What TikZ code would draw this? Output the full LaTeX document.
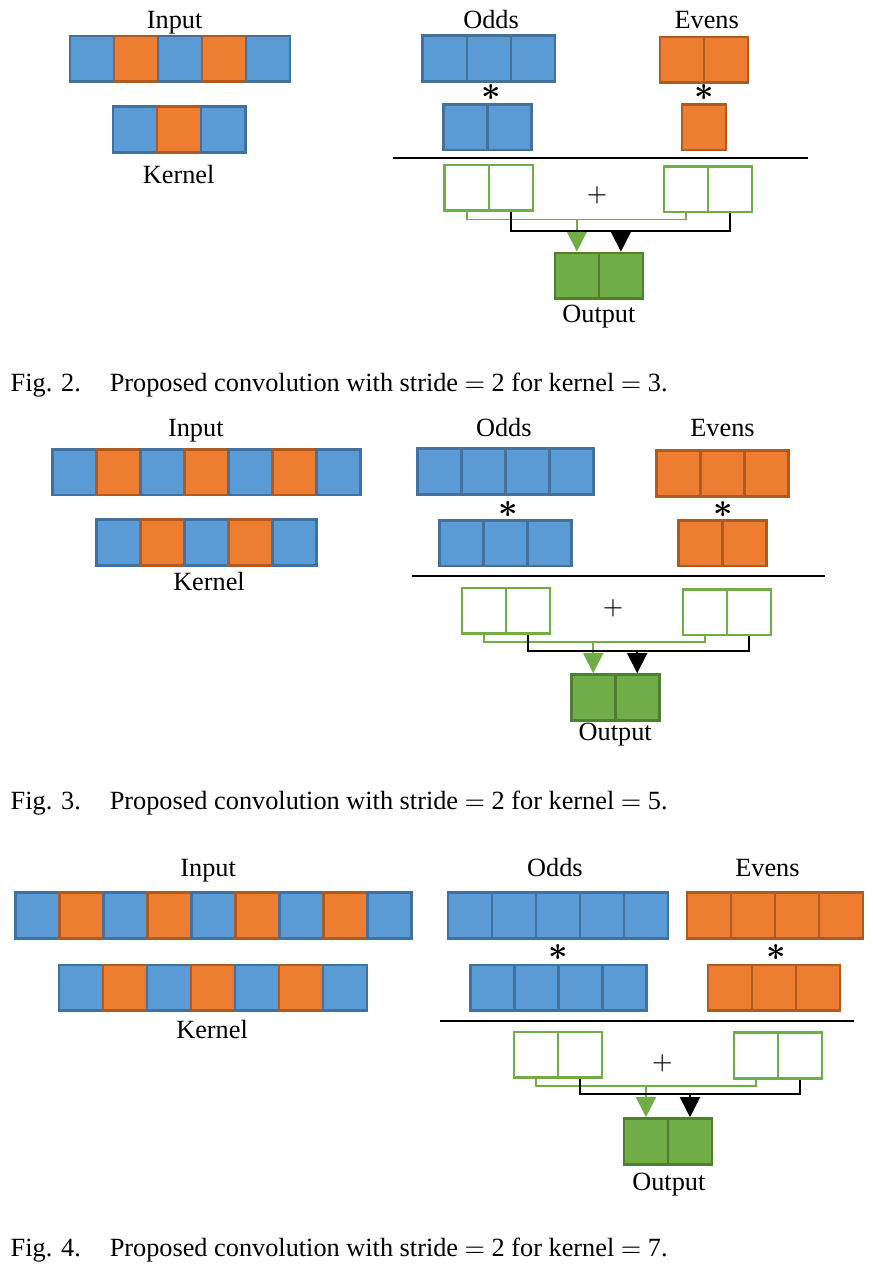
\documentclass[tikz,border=0pt]{standalone}
\usepackage{fontspec}
\setmainfont{Liberation Serif}
\usepackage{amsmath}
\usetikzlibrary{arrows.meta}
\definecolor{cblue}{HTML}{5B9BD5}
\definecolor{cblueline}{HTML}{41719C}
\definecolor{corange}{HTML}{ED7D31}
\definecolor{corangeline}{HTML}{AE5A21}
\definecolor{cgreen}{HTML}{70AD47}
\definecolor{cgreenline}{HTML}{507E32}
\tikzset{
  cell/.style={rectangle,minimum width=0.5cm,minimum height=0.52cm,inner sep=0pt,line width=0.9pt},
  bluecell/.style={cell,fill=cblue,draw=cblueline},
  orangecell/.style={cell,fill=corange,draw=corangeline},
  sumcell/.style={cell,fill=white,draw=cgreen},
  outcell/.style={cell,fill=cgreen,draw=cgreenline},
  heading/.style={anchor=base,inner sep=0pt},
  caption/.style={anchor=base west,inner sep=0pt},
  convop/.style={inner sep=0pt,font=\fontsize{11}{12}\selectfont},
  gline/.style={draw=cgreen,line width=0.45pt},
  kline/.style={draw=black,line width=0.55pt},
  tip/.style={-{Triangle[length=6.5pt,width=6.5pt]}},
}
\begin{document}
\begin{tikzpicture}[x=0.5cm,y=0.5cm,font=\fontsize{8.5}{10}\selectfont]
\useasboundingbox (0,0) rectangle (19.82,-28.77);

% Fig. 2, kernel 3
\node[heading] (in1) at (3.97,-0.64) {Input};
\foreach \i in {1,...,5}{
  \ifodd\i\relax \def\sty{bluecell}\else \def\sty{orangecell}\fi
  \node[\sty] (in1-\i) at (1.09+\i,-1.34) {};
}
\foreach \i in {1,...,3}{
  \ifodd\i\relax \def\sty{bluecell}\else \def\sty{orangecell}\fi
  \node[\sty] (ke1-\i) at (2.07+\i,-2.94) {};
}
\node[heading] (ke1) at (4.06,-4.18) {Kernel};
\node[heading] (od1) at (11.16,-0.64) {Odds};
\node[heading] (ev1) at (16.06,-0.64) {Evens};
\foreach \i in {1,...,3} \node[bluecell] (od1-\i) at (9.11+\i,-1.33) {};
\foreach \i in {1,2} \node[orangecell] (ev1-\i) at (14.5+\i,-1.36) {};
\node[convop] (ast1a) at (11.16,-2.11) {$\boldsymbol{\ast}$};
\node[convop] (ast1b) at (16.0,-2.11) {$\boldsymbol{\ast}$};
\foreach \i in {1,2} \node[bluecell] (ok1-\i) at (9.57+\i,-2.89) {};
\node[orangecell] (ek1-1) at (16.0,-2.89) {};
\draw[line width=0.5pt] (8.93,-3.59) -- (18.36,-3.59);
\foreach \i in {1,2} \node[sumcell] (sl1-\i) at (9.61+\i,-4.27) {};
\foreach \i in {1,2} \node[sumcell] (sr1-\i) at (14.59+\i,-4.30) {};
\node (plus1) at (13.57,-4.43) {$+$};
\foreach \i in {1,2} \node[outcell] (out1-\i) at (12.11+\i,-6.27) {};
\draw[gline] (sl1-1.south) -- ++(0,-0.17) coordinate (g1) -| (sr1-1.south);
\draw[gline,tip] (g1 -| out1-1.north) -- (out1-1.north);
\draw[kline] (sl1-2.south) -- ++(0,-0.42) coordinate (k1) -| (sr1-2.south);
\draw[kline,tip] (k1 -| out1-2.north) -- (out1-2.north);
\node[heading] (ou1) at (13.61,-7.34) {Output};
\node[caption] (cap1) at (0.23,-8.89) {Fig. 2.\hspace{1.1em}Proposed convolution with stride $=$ 2 for kernel $=$ 3.};

% Fig. 3, kernel 5
\node[heading] (in2) at (4.45,-9.93) {Input};
\foreach \i in {1,...,7}{
  \ifodd\i\relax \def\sty{bluecell}\else \def\sty{orangecell}\fi
  \node[\sty] (in2-\i) at (0.70+\i,-10.73) {};
}
\foreach \i in {1,...,5}{
  \ifodd\i\relax \def\sty{bluecell}\else \def\sty{orangecell}\fi
  \node[\sty] (ke2-\i) at (1.70+\i,-12.33) {};
}
\node[heading] (ke2) at (4.75,-13.43) {Kernel};
\node[heading] (od2) at (11.45,-9.93) {Odds};
\node[heading] (ev2) at (16.42,-9.93) {Evens};
\foreach \i in {1,...,4} \node[bluecell] (od2-\i) at (8.98+\i,-10.72) {};
\foreach \i in {1,...,3} \node[orangecell] (ev2-\i) at (14.41+\i,-10.76) {};
\node[convop] (ast2a) at (11.55,-11.58) {$\boldsymbol{\ast}$};
\node[convop] (ast2b) at (16.43,-11.58) {$\boldsymbol{\ast}$};
\foreach \i in {1,...,3} \node[bluecell] (ok2-\i) at (9.48+\i,-12.34) {};
\foreach \i in {1,2} \node[orangecell] (ek2-\i) at (14.91+\i,-12.34) {};
\draw[line width=0.5pt] (9.36,-13.09) -- (18.75,-13.09);
\foreach \i in {1,2} \node[sumcell] (sl2-\i) at (10.0+\i,-13.88) {};
\foreach \i in {1,2} \node[sumcell] (sr2-\i) at (15.02+\i,-13.91) {};
\node (plus2) at (13.93,-13.82) {$+$};
\foreach \i in {1,2} \node[outcell] (out2-\i) at (12.48+\i,-15.85) {};
\draw[gline] (sl2-1.south) -- ++(0,-0.16) coordinate (g2) -| (sr2-1.south);
\draw[gline,tip] (g2 -| out2-1.north) -- (out2-1.north);
\draw[kline] (sl2-2.south) -- ++(0,-0.37) coordinate (k2) -| (sr2-2.south);
\draw[kline,tip] (k2 -| out2-2.north) -- (out2-2.north);
\node[heading] (ou2) at (13.98,-16.82) {Output};
\node[caption] (cap2) at (0.23,-18.39) {Fig. 3.\hspace{1.1em}Proposed convolution with stride $=$ 2 for kernel $=$ 5.};

% Fig. 4, kernel 7
\node[heading] (in3) at (4.73,-19.91) {Input};
\foreach \i in {1,...,9}{
  \ifodd\i\relax \def\sty{bluecell}\else \def\sty{orangecell}\fi
  \node[\sty] (in3-\i) at (-0.14+\i,-20.81) {};
}
\foreach \i in {1,...,7}{
  \ifodd\i\relax \def\sty{bluecell}\else \def\sty{orangecell}\fi
  \node[\sty] (ke3-\i) at (0.84+\i,-22.45) {};
}
\node[heading] (ke3) at (4.82,-23.61) {Kernel};
\node[heading] (od3) at (12.61,-19.91) {Odds};
\node[heading] (ev3) at (17.44,-19.91) {Evens};
\foreach \i in {1,...,5} \node[bluecell] (od3-\i) at (9.68+\i,-20.80) {};
\foreach \i in {1,...,4} \node[orangecell] (ev3-\i) at (15.11+\i,-20.80) {};
\node[convop] (ast3a) at (12.68,-21.65) {$\boldsymbol{\ast}$};
\node[convop] (ast3b) at (17.64,-21.65) {$\boldsymbol{\ast}$};
\foreach \i in {1,...,4} \node[bluecell] (ok3-\i) at (10.20+\i,-22.45) {};
\foreach \i in {1,...,3} \node[orangecell] (ek3-\i) at (15.59+\i,-22.45) {};
\draw[line width=0.5pt] (10.0,-23.20) -- (19.41,-23.20);
\foreach \i in {1,2} \node[sumcell] (sl3-\i) at (11.18+\i,-23.97) {};
\foreach \i in {1,2} \node[sumcell] (sr3-\i) at (16.18+\i,-23.99) {};
\node (plus3) at (15.05,-24.16) {$+$};
\foreach \i in {1,2} \node[outcell] (out3-\i) at (13.68+\i,-25.94) {};
\draw[gline] (sl3-1.south) -- ++(0,-0.16) coordinate (g3) -| (sr3-1.south);
\draw[gline,tip] (g3 -| out3-1.north) -- (out3-1.north);
\draw[kline] (sl3-2.south) -- ++(0,-0.34) coordinate (k3) -| (sr3-2.south);
\draw[kline,tip] (k3 -| out3-2.north) -- (out3-2.north);
\node[heading] (ou3) at (15.20,-27.05) {Output};
\node[caption] (cap3) at (0.23,-28.55) {Fig. 4.\hspace{1.1em}Proposed convolution with stride $=$ 2 for kernel $=$ 7.};
\end{tikzpicture}
\end{document}
